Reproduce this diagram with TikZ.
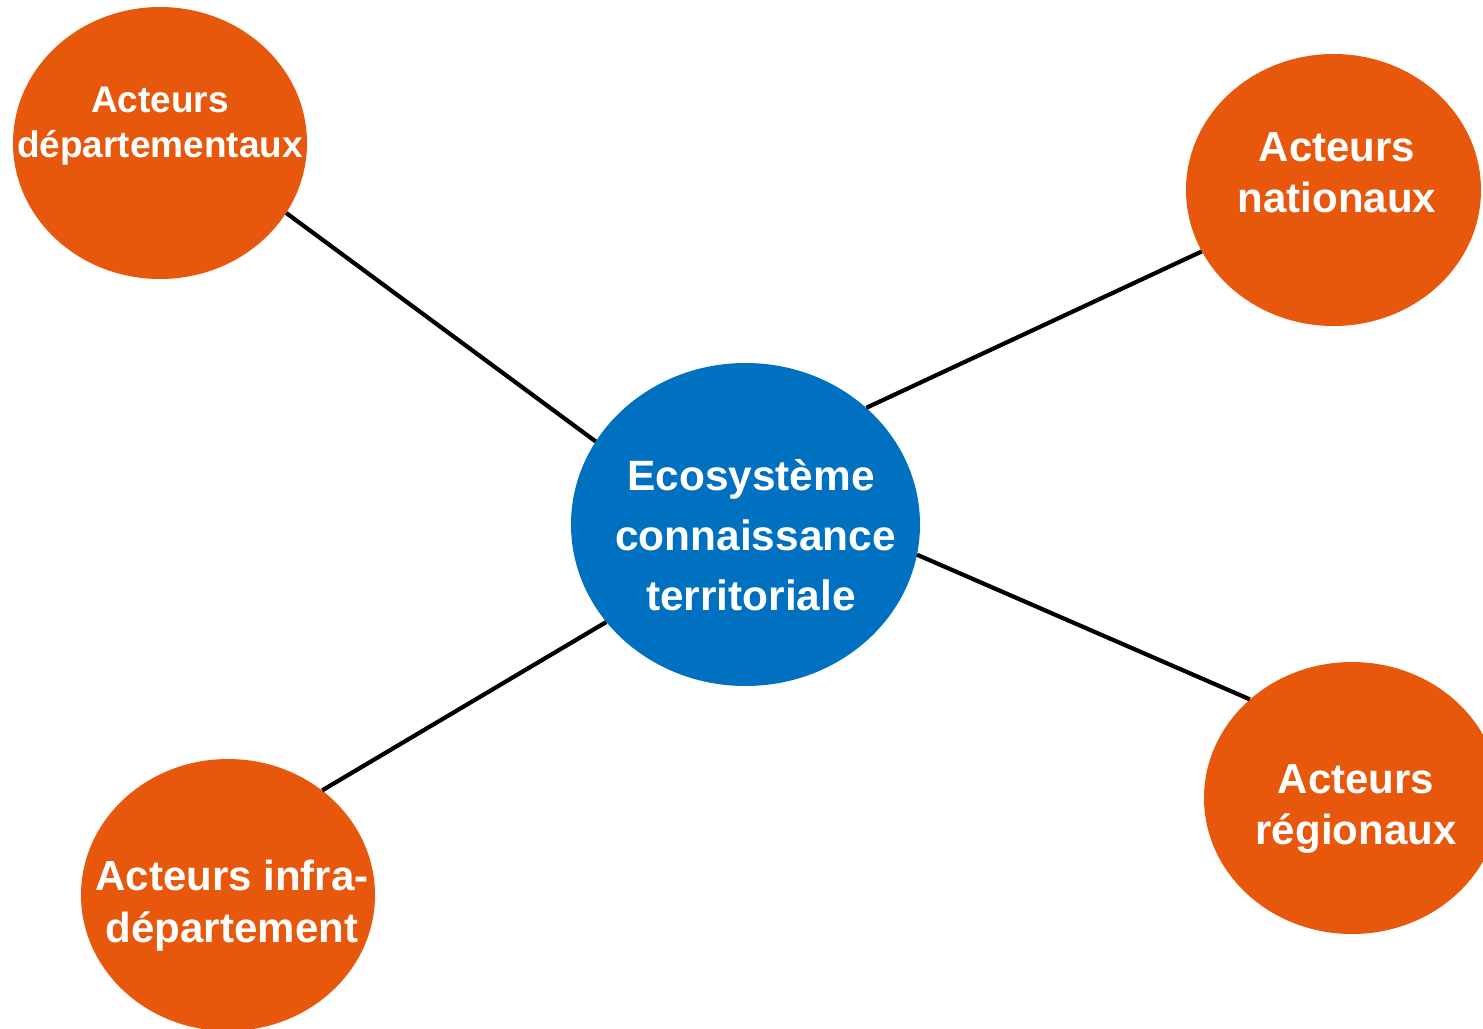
\documentclass[tikz,border=0pt]{standalone}
\usepackage{fontspec}
\setmainfont{Liberation Sans}
\usetikzlibrary{shapes.geometric}
\definecolor{orangeA}{RGB}{232,88,12}
\definecolor{blueA}{RGB}{0,112,192}
\tikzset{
  blob/.style={ellipse, inner sep=0pt, draw=none, fill=orangeA},
  hub/.style={ellipse, inner sep=0pt, draw=none, fill=blueA},
  lbl/.style={text=white, align=center, inner sep=0pt, font=\bfseries\fontsize{42}{51.5}\selectfont},
  link/.style={line width=4.2pt, black}
}
\begin{document}
\begin{tikzpicture}[x=1pt,y=-1pt]
\useasboundingbox (0,0) rectangle (1483,1028);
\clip (0,0) rectangle (1483,1028);
\node[hub, minimum width=349pt, minimum height=323pt] (c) at (745.5,524.5) {};
\node[blob, minimum width=294pt, minimum height=272pt] (tl) at (160,143) {};
\node[blob, minimum width=295pt, minimum height=272pt] (tr) at (1333.5,190) {};
\node[blob, minimum width=296pt, minimum height=272pt] (br) at (1352,798) {};
\node[blob, minimum width=294pt, minimum height=272pt] (bl) at (228,895) {};
\draw[link] (c.151.1) -- (tl.-29.1);
\draw[link] (c.44.3) -- (tr.205.9);
\draw[link] (c.-10.7) -- (br.136.4);
\draw[link] (c.215.3) -- (bl.48.2);
\node[lbl, font=\bfseries\fontsize{42.4}{60}\selectfont] (ct) at (751,535) {Ecosystème\\\hspace*{9pt}connaissance\\territoriale};
\node[lbl, font=\bfseries\fontsize{37}{45}\selectfont] (tlt) at (160,126.5) {Acteurs\\départementaux};
\node[lbl] (trt) at (1337,173) {Acteurs\\nationaux};
\node[lbl] (brt) at (1356,809) {Acteurs\\régionaux};
\node[lbl] (blt) at (232,905.5) {Acteurs infra-\\département};
\end{tikzpicture}
\end{document}
